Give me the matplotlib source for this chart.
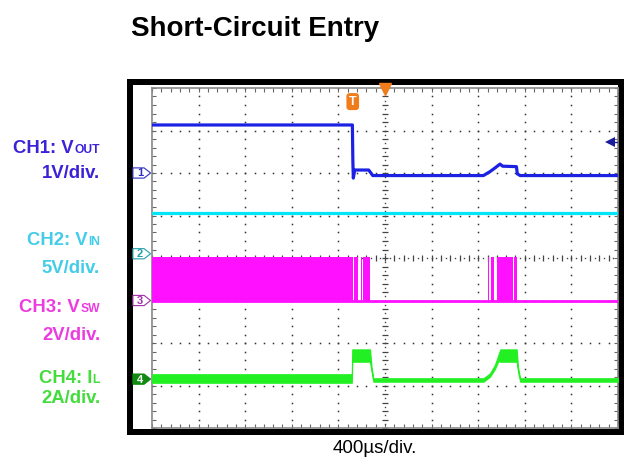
import numpy as np
import matplotlib.pyplot as plt
from matplotlib.patches import Rectangle, Polygon

plt.rcParams["font.family"] = ["Liberation Sans", "DejaVu Sans"]

W, H = 624, 459

# ── Scope settings ─────────────────────────────
time_per_div = 400          # µs/div
n_xdiv, n_ydiv = 10, 8
t_end = time_per_div * n_xdiv

# channel ground offsets (div from bottom) and scale (unit/div)
ch1_offset, ch1_scale = 6.0, 1.0
ch2_offset, ch2_scale = 4.1, 5.0
ch3_offset, ch3_scale = 3.0, 2.0
ch4_offset, ch4_scale = 1.15, 2.0

# ── Traces (time in µs from left screen edge) ──
# CH1: Vout (V)
ch1_t = [0, 1720, 1724, 1728, 1740, 1860, 1895, 2845, 2900, 2945, 2987, 3010, 3128, 3136, 3160, 4000]
ch1_v = [1.13, 1.13, 0.30, -0.12, 0.07, 0.07, -0.06, -0.06, 0.03, 0.12, 0.21, 0.16, 0.15, -0.02, -0.06, -0.06]

# CH2: Vin (V)
ch2_t = [0, 4000]
ch2_v = [4.85, 4.85]

# CH3: Vsw (V) - switching bursts drawn as bands
ch3_high, ch3_low = 2.05, -0.07
ch3_burst_start = [0, 1735, 1790, 1815, 2884, 2910, 2958, 3105]
ch3_burst_end = [1725, 1770, 1800, 1870, 2890, 2935, 3098, 3135]
ch3_idle = 0.0

# CH4: inductor current (A), centre and ripple half-width
ch4_t = [0, 1715, 1719, 1871, 1885, 1900, 2845, 2901, 2944, 2973, 2990, 3130, 3142, 3160, 4000]
ch4_i = [0.03, 0.03, 1.11, 1.11, 0.45, -0.04, -0.04, 0.19, 0.58, 0.99, 1.11, 1.11, 0.45, -0.04, -0.04]
ch4_rip = [0.20, 0.20, 0.29, 0.29, 0.10, 0.08, 0.08, 0.08, 0.10, 0.14, 0.29, 0.29, 0.10, 0.08, 0.08]

# markers
t_trigger = 1723
trig_level_div = 6.73

# ── Colours ────────────────────────────────────
c1, c2, c3, c4 = "#1c22e4", "#00e6f6", "#ff10ff", "#22f022"
lab1, lab2, lab3, lab4 = "#3a22d8", "#44cce8", "#ec3ce0", "#44dc3c"


def fx(x):
    return x / W


def fy(y):
    return 1 - y / H


fig = plt.figure(figsize=(W / 100, H / 100), dpi=100)

# black scope frame
fig.add_artist(Rectangle((fx(127), fy(435)), (624 - 127) / W, (435 - 79) / H,
                         facecolor="black", edgecolor="none", transform=fig.transFigure, zorder=-2))
fig.add_artist(Rectangle((fx(133), fy(429)), (618 - 133) / W, (429 - 85) / H,
                         facecolor="white", edgecolor="none", transform=fig.transFigure, zorder=-1))

ax = fig.add_axes([fx(152), fy(428), 466 / W, 340 / H])
ax.set_xlim(0, t_end)
ax.set_ylim(0, n_ydiv)
ax.set_xticks(np.arange(0, t_end + 1, time_per_div / 5))
ax.set_yticks(np.arange(0, n_ydiv + 0.01, 0.2))
ax.tick_params(direction="in", top=True, right=True, length=3, width=0.8, color="#666",
               labelbottom=False, labelleft=False)
for s in ax.spines.values():
    s.set_color("#888")
    s.set_linewidth(1.2)

# graticule dots
for k in range(1, n_xdiv):
    if k == n_xdiv // 2:
        continue
    yy = np.arange(0, n_ydiv + 0.01, 0.2)
    ax.plot(np.full_like(yy, k * time_per_div), yy, ls="none", marker="s", ms=1.1, color="#333", mew=0)
for j in range(1, n_ydiv):
    if j == n_ydiv // 2:
        continue
    xx = np.arange(0, t_end + 1, time_per_div / 5)
    ax.plot(xx, np.full_like(xx, j), ls="none", marker="s", ms=1.1, color="#333", mew=0)

# centre cross with minor ticks
yy = np.arange(0, n_ydiv + 0.01, 0.2)
ax.plot(np.full_like(yy, t_end / 2), yy, ls="none", marker="_", ms=4, mew=0.9, color="#444")
yy2 = np.arange(0.1, n_ydiv, 0.2)
ax.plot(np.full_like(yy2, t_end / 2), yy2, ls="none", marker="s", ms=1.0, mew=0, color="#444")
xx = np.arange(0, t_end + 1, time_per_div / 5)
ax.plot(xx, np.full_like(xx, n_ydiv / 2), ls="none", marker="|", ms=4, mew=0.9, color="#444")
xx2 = np.arange(time_per_div / 10, t_end, time_per_div / 5)
ax.plot(xx2, np.full_like(xx2, n_ydiv / 2), ls="none", marker="s", ms=1.0, mew=0, color="#444")

# ── Traces ─────────────────────────────────────
ax.plot(ch2_t, ch2_offset + np.array(ch2_v) / ch2_scale, color=c2, lw=2.3, zorder=3)
ax.plot(ch1_t, ch1_offset + np.array(ch1_v) / ch1_scale, color=c1, lw=2.3, zorder=3)

ax.plot([0, t_end], [ch3_offset + ch3_idle / ch3_scale] * 2, color=c3, lw=2.0, zorder=3)
for t0, t1 in zip(ch3_burst_start, ch3_burst_end):
    ax.fill_between([t0, t1], ch3_offset + ch3_low / ch3_scale, ch3_offset + ch3_high / ch3_scale,
                    color=c3, lw=0, zorder=3)

ci = np.array(ch4_i)
cr = np.array(ch4_rip)
ax.fill_between(ch4_t, ch4_offset + (ci - cr) / ch4_scale, ch4_offset + (ci + cr) / ch4_scale,
                color=c4, lw=0.8, edgecolor=c4, zorder=3)

# trigger marker and position arrow
ax.text(t_trigger, 7.68, "T", color="white", fontsize=9, fontweight="bold", ha="center", va="center",
        bbox=dict(boxstyle="round,pad=0.2,rounding_size=0.25", fc="#f07c1c", ec="none"), zorder=5)
ax.plot(t_end / 2, 7.97, marker="v", ms=8, color="#f07c1c", clip_on=False, zorder=5)
ax.plot([3930, t_end], [trig_level_div] * 2, color="#1a1a9c", lw=1.0, zorder=5)
ax.plot(3930, trig_level_div, marker="<", ms=7, color="#1a1a9c", mew=0, zorder=5)

# channel ground markers
markers = [("1", ch1_offset, "#3030c0", "white", "#3030c0"),
           ("2", ch2_offset, "#22a0a8", "white", "#22a0a8"),
           ("3", ch3_offset, "#a030a8", "white", "#a030a8"),
           ("4", ch4_offset, "#108a10", "#108a10", "white")]
tr = ax.get_yaxis_transform()
for num, yoff, ec, fc, tc in markers:
    poly = Polygon([(-0.041, yoff - 0.12), (-0.017, yoff - 0.12), (-0.003, yoff),
                    (-0.017, yoff + 0.12), (-0.041, yoff + 0.12)], closed=True,
                   transform=tr, clip_on=False, fc=fc, ec=ec, lw=0.8, zorder=6)
    ax.add_patch(poly)
    ax.text(-0.026, yoff - 0.01, num, transform=tr, ha="center", va="center", fontsize=8,
            fontweight="bold", color=tc, clip_on=False, zorder=7)

# ── Text ───────────────────────────────────────
fig.text(fx(131), fy(35.5), "Short-Circuit Entry", fontsize=20, fontweight="bold", va="baseline")
fig.text(fx(375), fy(453), "400µs/div.", fontsize=13.5, ha="center", va="baseline")

renderer = fig.canvas.get_renderer()


def ch_label(y, main, sub, scale_txt, y2, color):
    t_sub = fig.text(fx(100), fy(y), sub, fontsize=8.7, fontweight="bold", color=color,
                     ha="right", va="baseline")
    w = t_sub.get_window_extent(renderer).width
    fig.text(fx(100 - w - 0.5), fy(y), main, fontsize=13.3, fontweight="bold", color=color,
             ha="right", va="baseline")
    fig.text(fx(100), fy(y2), scale_txt, fontsize=13.3, fontweight="bold", color=color,
             ha="right", va="baseline")


ch_label(153.4, "CH1: V", "OUT", "1V/div.", 178.4, lab1)
ch_label(245.0, "CH2: V", "IN", "5V/div.", 273.4, lab2)
ch_label(311.7, "CH3: V", "SW", "2V/div.", 340.0, lab3)
ch_label(383.4, "CH4: I", "L", "2A/div.", 403.4, lab4)

fig.savefig("out.png", dpi=100)
